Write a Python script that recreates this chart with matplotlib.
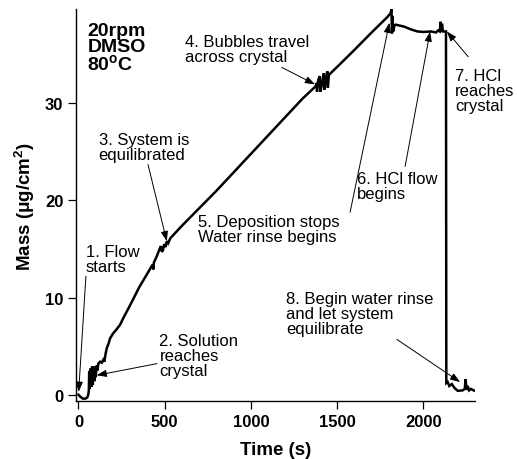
import matplotlib
matplotlib.use("Agg")
import matplotlib.pyplot as plt

plt.rcParams["font.family"] = ["Liberation Sans", "DejaVu Sans"]
plt.rcParams["mathtext.fontset"] = "custom"
plt.rcParams["mathtext.rm"] = "Liberation Sans"
plt.rcParams["mathtext.bf"] = "Liberation Sans:bold"

# QCM trace: deposition, rinse, HCl strip, rinse
time_s = [
    0, 10, 25, 40, 50, 57, 60, 62, 65, 70, 74, 79, 83, 88, 92, 97, 100, 105,
    110, 115, 125, 135, 144, 150, 157, 164, 175, 183, 200, 215, 241, 260, 290,
    319, 350, 380, 410, 430, 434, 437, 455, 470, 478, 484, 490, 497, 505, 512,
    520, 532, 600, 700, 800, 900, 1000, 1100, 1200, 1300, 1375,
    1381, 1383, 1390, 1400, 1402, 1412, 1423, 1425, 1435, 1443, 1446, 1452,
    1462, 1520, 1600, 1700, 1792, 1810, 1815, 1818, 1821, 1825, 1832,
    1840, 1888, 1930, 1966, 2000, 2044, 2073, 2085, 2095, 2100, 2104, 2108,
    2113, 2131, 2133, 2141, 2150, 2165, 2180, 2199, 2228, 2240, 2245, 2250,
    2257, 2265, 2276, 2290, 2305,
]
mass = [
    0.0, -0.2, -0.4, -0.4, -0.3, 0.0, 0.5, 2.4, 0.6, 2.7, 0.8, 2.9, 1.0, 2.9,
    1.4, 2.3, 1.8, 3.0, 2.5, 3.2, 3.4, 3.3, 3.6, 3.4, 4.2, 4.8, 5.3, 5.8, 6.3,
    6.6, 7.2, 7.9, 8.9, 9.9, 11.0, 11.9, 12.8, 13.4, 12.9, 13.6, 14.3, 15.0,
    15.3, 14.7, 14.9, 15.5, 15.2, 15.8, 15.6, 16.1, 17.4, 19.2, 21.0, 22.9,
    24.8, 26.7, 28.6, 30.5, 31.75, 32.1, 31.2, 32.4, 32.8, 31.2,
    32.0, 33.1, 31.4, 32.5, 33.3, 31.6, 32.9, 33.1, 34.1, 35.5, 37.3,
    38.9, 39.3, 39.7, 37.2, 39.0, 37.4, 38.0, 38.1, 37.9, 37.6, 37.4, 37.35,
    37.4, 37.3, 37.5, 37.4, 38.4, 37.4, 38.2, 37.4, 37.4, 1.2, 1.3, 0.9, 1.1,
    0.7, 0.4, 0.45, 0.6, 1.6, 0.5, 0.9, 0.45, 0.6, 0.45, 0.4,
]

# annotation labels: text top-left, arrow tail, arrow head
notes = [
    ("1. Flow\nstarts", (43, 15.5), (43, 12.2), (1, 0.3)),
    ("2. Solution\nreaches\ncrystal", (469, 6.4), (455, 3.2), (105, 2.0)),
    ("3. System is\nequilibrated", (117, 27.0), (403, 23.7), (512, 15.8)),
    ("4. Bubbles travel\nacross crystal", (618, 37.1), (1179, 33.7), (1372, 31.95)),
    ("5. Deposition stops\nWater rinse begins", (695, 18.6), (1575, 18.8), (1803, 38.3)),
    ("6. HCl flow\nbegins", (1617, 23.0), (1894, 23.5), (2039, 37.4)),
    ("7. HCl\nreaches\ncrystal", (2184, 33.6), (2260, 34.8), (2136, 37.4)),
    ("8. Begin water rinse\nand let system\nequilibrate", (1204, 10.7), (1846, 5.7), (2213, 1.3)),
]
conditions = "20rpm\nDMSO\n80$\\mathregular{^o}$C"

fig = plt.figure(figsize=(5.17, 4.6), dpi=100)
ax = fig.add_axes([0.147, 0.126, 0.772, 0.852])

ax.plot(time_s, mass, color="black", linewidth=1.8, solid_joinstyle="miter")

for label, text_xy, tail, head in notes:
    ax.text(text_xy[0], text_xy[1], label, fontsize=12, va="top", ha="left",
            linespacing=1.0)
    ax.annotate("", xy=head, xytext=tail,
                arrowprops=dict(arrowstyle="-|>,head_length=0.5,head_width=0.18",
                                color="black", lw=0.7, mutation_scale=12,
                                shrinkA=0, shrinkB=0))

ax.text(51, 38.4, conditions, fontsize=14, fontweight="bold", va="top",
        ha="left", linespacing=0.92)

ax.set_xlim(-14.5, 2300)
ax.set_ylim(-0.65, 39.7)
ax.set_xticks([0, 500, 1000, 1500, 2000])
ax.set_yticks([0, 10, 20, 30])
ax.spines["top"].set_visible(False)
ax.spines["right"].set_visible(False)
for side in ("left", "bottom"):
    ax.spines[side].set_linewidth(1.0)
ax.tick_params(direction="out", length=6, width=0.9, labelsize=12, pad=3)
for lbl in ax.get_xticklabels() + ax.get_yticklabels():
    lbl.set_fontweight("bold")

ax.set_xlabel("Time (s)", fontsize=13.5, fontweight="bold", labelpad=9)
ax.set_ylabel("Mass ($\\mathbf{\\mu}$g/cm$^\\mathbf{2}$)", fontsize=13.5,
              fontweight="bold", labelpad=6)

fig.savefig("out.png", dpi=100)
